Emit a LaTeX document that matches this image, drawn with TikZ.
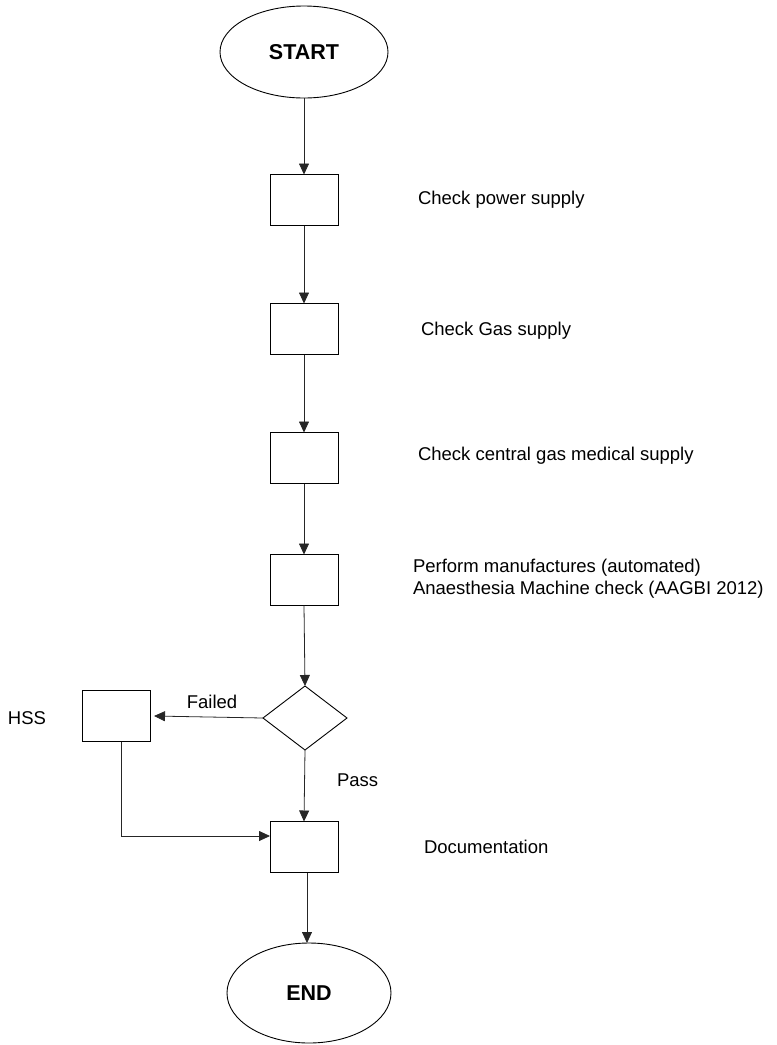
\documentclass[tikz,border=0pt]{standalone}
\usepackage{fontspec}
\setmainfont{Liberation Sans}
\usetikzlibrary{shapes.geometric,arrows.meta}
\begin{document}
\begin{tikzpicture}[x=1pt,y=-1pt,
  line width=0.9pt,
  every node/.style={inner sep=0pt, outer sep=0pt},
  terminal/.style={draw, ellipse, font=\fontsize{21.5}{24}\selectfont\bfseries},
  stepbox/.style={draw, rectangle, minimum width=68pt, minimum height=51pt},
  decision/.style={draw, diamond, minimum width=84pt, minimum height=64pt},
  lbl/.style={font=\fontsize{18.5}{21.7}\selectfont, align=left, anchor=west},
  arr/.style={draw=black!85, line width=0.8pt, -{Triangle[length=11pt,width=10pt]}}
]
\useasboundingbox (0,0) rectangle (777,1045);

% terminals
\node[terminal, minimum width=168pt, minimum height=92pt] (start) at (304,52) {START};
\node[terminal, minimum width=164pt, minimum height=100pt] (end) at (309,993) {END};

% process steps
\node[stepbox] (s1) at (304,200) {};
\node[stepbox] (s2) at (304,329) {};
\node[stepbox] (s3) at (304,458) {};
\node[stepbox] (s4) at (304,580) {};
\node[decision] (dec) at (305,718) {};
\node[stepbox] (hss) at (116,716) {};
\node[stepbox] (doc) at (304,847) {};

% step descriptions
\node[lbl] (t1) at (418,200) {Check power supply};
\node[lbl] (t2) at (421,331) {Check Gas supply};
\node[lbl] (t3) at (418,456) {Check central gas medical supply};
\node[lbl] (t4) at (413,579) {Perform manufactures (automated)\\Anaesthesia Machine check (AAGBI 2012)};
\node[lbl] (t5) at (424,847) {Documentation};
\node[lbl] (th) at (8,718) {HSS};
\node[font=\fontsize{18.5}{21.7}\selectfont] (tf) at (212,702) {Failed};
\node[lbl] (tp) at (337,780) {Pass};

% connectors
\draw[arr] (start.south) -- (s1.north);
\draw[arr] (s1.south) -- (s2.north);
\draw[arr] (s2.south) -- (s3.north);
\draw[arr] (s3.south) -- (s4.north);
\draw[arr] (s4.south) -- (dec.north);
\draw[arr] (dec.south) -- (doc.north);
\draw[arr] (dec.west) -- ([xshift=4pt]hss.east);
\draw[arr] ([xshift=5pt]hss.south) |- ([yshift=11pt]doc.west);
\draw[arr] ([xshift=3pt]doc.south) -- ([xshift=3pt]doc.south |- end.north);
\end{tikzpicture}
\end{document}
